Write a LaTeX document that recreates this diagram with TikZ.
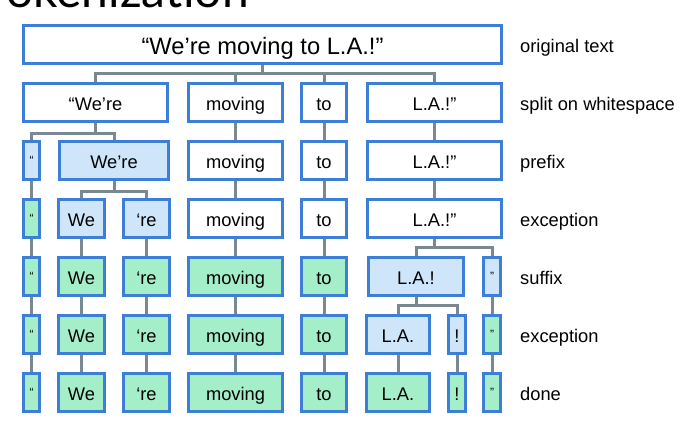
\documentclass[tikz,border=0pt]{standalone}
\usepackage{fontspec}
\setmainfont{Liberation Sans}
\newfontfamily\titlefont{Lato}
\definecolor{bordblue}{HTML}{3D7FD6}
\definecolor{lblue}{HTML}{CFE6FA}
\definecolor{lgreen}{HTML}{A4EFC9}
\definecolor{conngray}{HTML}{7A8891}
\begin{document}
\begin{tikzpicture}[x=1pt,y=-1pt,
  box/.style={draw=bordblue, line width=3pt, fill=white, minimum height=38pt,
    inner sep=0pt, text height=15pt, text depth=0pt, font=\fontsize{18.3}{22}\selectfont},
  wb/.style={box},
  bb/.style={box, fill=lblue},
  gb/.style={box, fill=lgreen},
  sm/.style={font=\fontsize{12}{14}\selectfont, text height=8.2pt},
  conn/.style={draw=conngray, line width=3pt},
  lab/.style={anchor=west, inner sep=0pt, text height=15pt, text depth=0pt,
    font=\fontsize{18.3}{22}\selectfont}]
\useasboundingbox (0,0) rectangle (682,431);
\begin{scope}
\clip (0,0) rectangle (682,431);
\node[anchor=base east, inner sep=0pt, font=\titlefont\fontsize{48}{50}\selectfont] (title) at (249,7.5) {Tokenization};
\end{scope}
% row 1
\node[wb, minimum width=478pt, font=\fontsize{23.7}{28}\selectfont, text height=19pt] (n0) at (262.5,44.5) {“We’re moving to L.A.!”};
% row 2
\node[wb, minimum width=144pt] (a1) at (95.5,102.5) {“We’re};
\node[wb, minimum width=94pt] (a2) at (235.5,102.5) {moving};
\node[wb, minimum width=45pt] (a3) at (324,102.5) {to};
\node[wb, minimum width=134pt] (a4) at (434.5,102.5) {L.A.!”};
% row 3
\node[bb, sm, minimum width=16pt] (b0) at (31.5,160.5) {“};
\node[bb, minimum width=109pt] (b1) at (114,160.5) {We’re};
\node[wb, minimum width=94pt] (b2) at (235.5,160.5) {moving};
\node[wb, minimum width=45pt] (b3) at (324,160.5) {to};
\node[wb, minimum width=134pt] (b4) at (434.5,160.5) {L.A.!”};
% row 4
\node[gb, sm, minimum width=16pt] (c0) at (31.5,218.5) {“};
\node[bb, minimum width=46pt] (c1) at (81.5,218.5) {We};
\node[bb, minimum width=46pt] (c2) at (146.5,218.5) {‘re};
\node[wb, minimum width=94pt] (c3) at (235.5,218.5) {moving};
\node[wb, minimum width=45pt] (c4) at (324,218.5) {to};
\node[wb, minimum width=134pt] (c5) at (434.5,218.5) {L.A.!”};
% row 5
\node[gb, sm, minimum width=16pt] (d0) at (31.5,276.5) {“};
\node[gb, minimum width=46pt] (d1) at (81.5,276.5) {We};
\node[gb, minimum width=46pt] (d2) at (146.5,276.5) {‘re};
\node[gb, minimum width=94pt] (d3) at (235.5,276.5) {moving};
\node[gb, minimum width=45pt] (d4) at (324,276.5) {to};
\node[bb, minimum width=95pt] (d5) at (416,276.5) {L.A.!};
\node[bb, sm, minimum width=17pt] (d6) at (492,276.5) {”};
% row 6
\node[gb, sm, minimum width=16pt] (e0) at (31.5,334.5) {“};
\node[gb, minimum width=46pt] (e1) at (81.5,334.5) {We};
\node[gb, minimum width=46pt] (e2) at (146.5,334.5) {‘re};
\node[gb, minimum width=94pt] (e3) at (235.5,334.5) {moving};
\node[gb, minimum width=45pt] (e4) at (324,334.5) {to};
\node[bb, minimum width=63pt] (e5) at (398,334.5) {L.A.};
\node[bb, minimum width=17pt] (e6) at (457,334.5) {!};
\node[gb, sm, minimum width=17pt] (e7) at (492,334.5) {”};
% row 7
\node[gb, sm, minimum width=16pt] (f0) at (31.5,392.5) {“};
\node[gb, minimum width=46pt] (f1) at (81.5,392.5) {We};
\node[gb, minimum width=46pt] (f2) at (146.5,392.5) {‘re};
\node[gb, minimum width=94pt] (f3) at (235.5,392.5) {moving};
\node[gb, minimum width=45pt] (f4) at (324,392.5) {to};
\node[gb, minimum width=63pt] (f5) at (398,392.5) {L.A.};
\node[gb, minimum width=17pt] (f6) at (457,392.5) {!};
\node[gb, sm, minimum width=17pt] (f7) at (492,392.5) {”};
% labels
\node[lab] (l1) at (520,44.5) {original text};
\node[lab] (l2) at (520,102.5) {split on whitespace};
\node[lab] (l3) at (520,160.5) {prefix};
\node[lab] (l4) at (520,218.5) {exception};
\node[lab] (l5) at (520,276.5) {suffix};
\node[lab] (l6) at (520,334.5) {exception};
\node[lab] (l7) at (520,392.5) {done};
% connectors
\foreach \c in {a1,a2,a3,a4}
  \draw[conn] (n0.south) -- (n0.south |- 0,73.5) -| (\c.north);
\foreach \c in {b0,b1}
  \draw[conn] (a1.south) -- (a1.south |- 0,133) -| (\c.north);
\draw[conn] (a2.south) -- (b2.north);
\draw[conn] (a3.south) -- (b3.north);
\draw[conn] (a4.south) -- (b4.north);
\draw[conn] (b0.south) -- (c0.north);
\foreach \c in {c1,c2}
  \draw[conn] (b1.south) -- (b1.south |- 0,191) -| (\c.north);
\draw[conn] (b2.south) -- (c3.north);
\draw[conn] (b3.south) -- (c4.north);
\draw[conn] (b4.south) -- (c5.north);
\draw[conn] (c0.south) -- (d0.north);
\draw[conn] (c1.south) -- (d1.north);
\draw[conn] (c2.south) -- (d2.north);
\draw[conn] (c3.south) -- (d3.north);
\draw[conn] (c4.south) -- (d4.north);
\foreach \c in {d5,d6}
  \draw[conn] (c5.south) -- (c5.south |- 0,247) -| (\c.north);
\draw[conn] (d0.south) -- (e0.north);
\draw[conn] (d1.south) -- (e1.north);
\draw[conn] (d2.south) -- (e2.north);
\draw[conn] (d3.south) -- (e3.north);
\draw[conn] (d4.south) -- (e4.north);
\foreach \c in {e5,e6}
  \draw[conn] (d5.south) -- (d5.south |- 0,305) -| (\c.north);
\draw[conn] (d6.south) -- (e7.north);
\draw[conn] (e0.south) -- (f0.north);
\draw[conn] (e1.south) -- (f1.north);
\draw[conn] (e2.south) -- (f2.north);
\draw[conn] (e3.south) -- (f3.north);
\draw[conn] (e4.south) -- (f4.north);
\draw[conn] (e5.south) -- (f5.north);
\draw[conn] (e6.south) -- (f6.north);
\draw[conn] (e7.south) -- (f7.north);
\end{tikzpicture}
\end{document}
